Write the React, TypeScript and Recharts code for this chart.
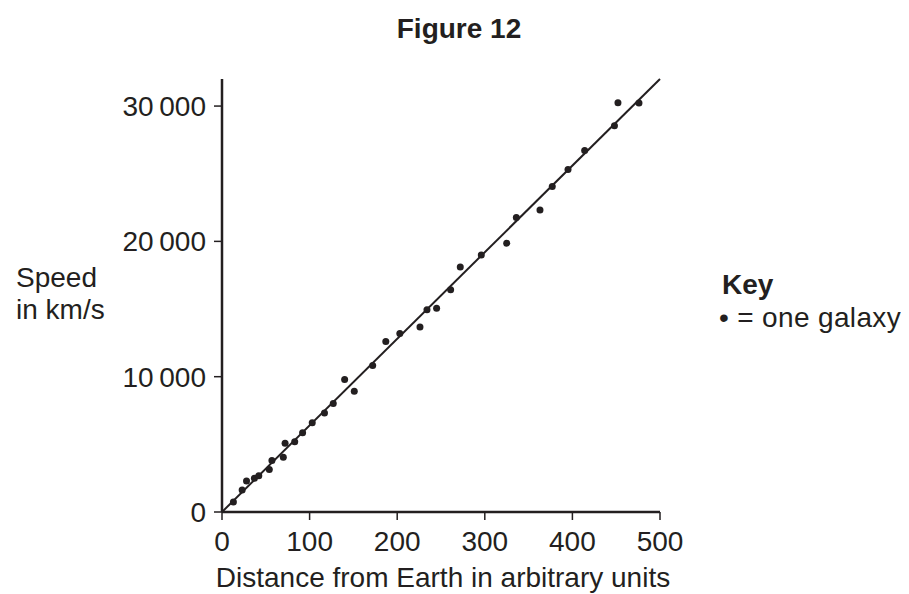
import React from 'react';
import { ScatterChart, Scatter, XAxis, YAxis, ReferenceLine } from 'recharts';

const distances = [13, 23, 28, 37, 42, 54, 57, 70, 72, 83, 92, 103, 117, 127, 140, 151, 172, 187, 203, 226, 234, 245, 261, 272, 296, 325, 336, 363, 377, 395, 414, 448, 452, 476];
const speeds = [740, 1630, 2300, 2490, 2670, 3140, 3800, 4050, 5090, 5190, 5860, 6600, 7310, 8010, 9790, 8920, 10820, 12600, 13200, 13680, 14940, 15050, 16430, 18110, 19000, 19870, 21770, 22310, 24060, 25320, 26710, 28540, 30250, 30220];
const xTicks = [0, 100, 200, 300, 400, 500];
const yTicks = [0, 10000, 20000, 30000];
const lineStart = { x: 0, y: 0 };
const lineEnd = { x: 500, y: 32000 };

const points = distances.map((d, i) => ({ x: d, y: speeds[i] }));

const INK = '#231f20';
const FONT = '"Liberation Sans", Arial, Helvetica, sans-serif';

const fmt = (v: number) => {
  if (v >= 1000) {
    const th = Math.floor(v / 1000);
    const rest = String(v % 1000).padStart(3, '0');
    return `${th}\u2009${rest}`;
  }
  return String(v);
};

const Dot = (props: any) => {
  const { cx, cy } = props;
  if (cx == null || cy == null) return null;
  return <circle cx={cx} cy={cy} r={3.5} fill={INK} />;
};

export default function App() {
  return (
    <div style={{ position: 'relative', width: 901, height: 586, fontFamily: FONT }}>
      <ScatterChart width={901} height={586} margin={{ top: 71, right: 249, bottom: 22, left: 0 }}>
        <XAxis
          type="number"
          dataKey="x"
          domain={[0, 500]}
          ticks={xTicks}
          interval={0}
          height={60}
          tickSize={8}
          tickMargin={11}
          axisLine={{ stroke: INK, strokeWidth: 2.5 }}
          tickLine={{ stroke: INK, strokeWidth: 1.5 }}
          tick={{ fill: INK, fontSize: 28, fontFamily: FONT }}
        />
        <YAxis
          type="number"
          dataKey="y"
          domain={[0, 32000]}
          ticks={yTicks}
          interval={0}
          width={214}
          tickSize={8}
          tickMargin={8}
          tickFormatter={fmt}
          axisLine={{ stroke: INK, strokeWidth: 2.5 }}
          tickLine={{ stroke: INK, strokeWidth: 1.5 }}
          tick={{ fill: INK, fontSize: 28, fontFamily: FONT }}
        />
        <ReferenceLine
          segment={[lineStart, lineEnd]}
          stroke={INK}
          strokeWidth={2}
          ifOverflow="visible"
        />
        <Scatter data={points} shape={<Dot />} isAnimationActive={false} />
      </ScatterChart>
      <svg
        width={901}
        height={586}
        overflow="visible"
        style={{ position: 'absolute', left: 0, top: 0, pointerEvents: 'none', overflow: 'visible' }}
      >
        <text x={451} y={30} textAnchor="middle" fontSize={28} fontWeight="bold" fill={INK} fontFamily={FONT}>
          Figure 12
        </text>
        <text x={8} y={279} fontSize={28} fill={INK} fontFamily={FONT}>Speed</text>
        <text x={8} y={311} fontSize={28} fill={INK} fontFamily={FONT}>in km/s</text>
        <text x={435} y={579} textAnchor="middle" fontSize={28} fill={INK} fontFamily={FONT}>
          Distance from Earth in arbitrary units
        </text>
        <text x={714} y={286} fontSize={28} fontWeight="bold" fill={INK} fontFamily={FONT}>Key</text>
        <text x={711} y={319} fontSize={28} fill={INK} fontFamily={FONT} letterSpacing={0.35}>• = one galaxy</text>
      </svg>
    </div>
  );
}
